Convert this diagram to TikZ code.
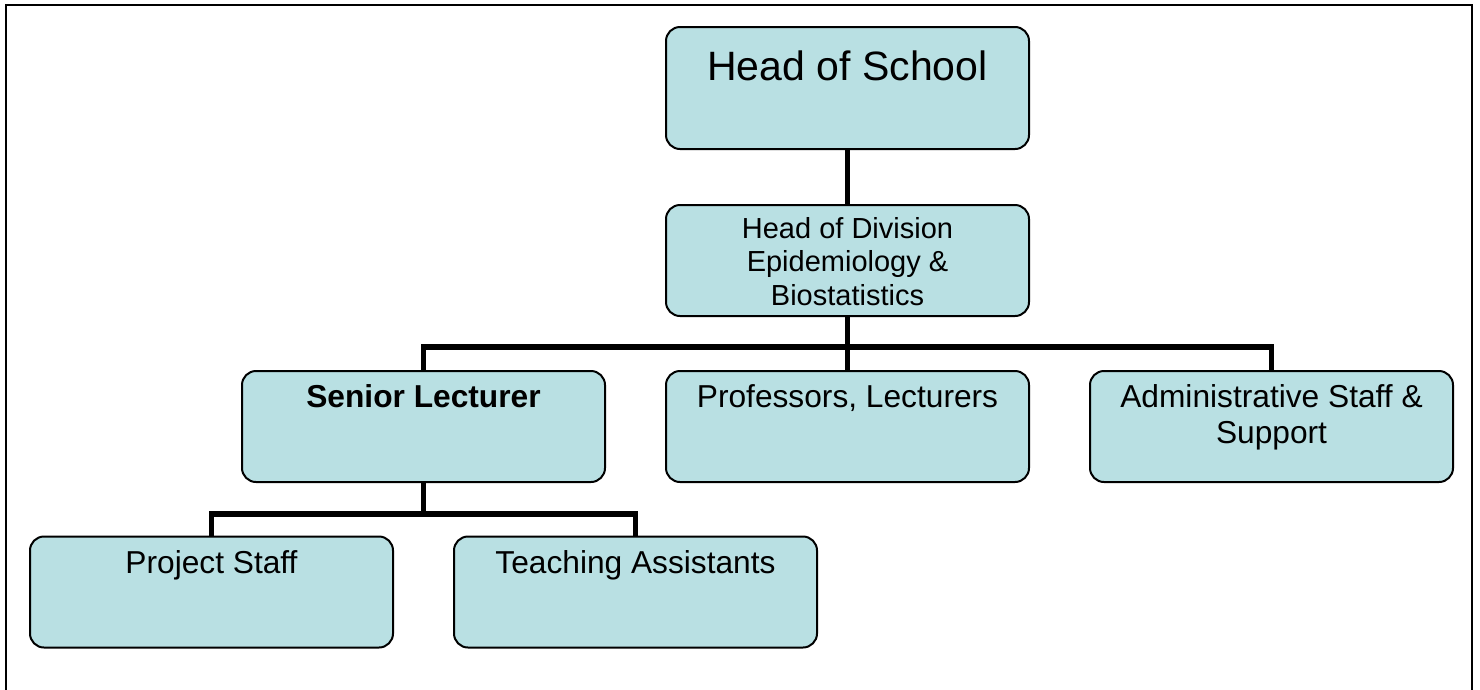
\documentclass[tikz,border=0pt]{standalone}
\usepackage{fontspec}
\setmainfont{Liberation Sans}
\definecolor{boxfill}{RGB}{185,224,227}
\tikzset{
  box/.style={draw=black, line width=2pt, fill=boxfill, rounded corners=14pt,
    minimum width=363pt, minimum height=111pt, inner sep=0pt},
  conn/.style={draw=black, line width=5.5pt, line join=miter},
  big/.style={font=\fontsize{41}{47}\selectfont, inner sep=0pt, anchor=base},
  mid/.style={font=\fontsize{29}{33.5}\selectfont, inner sep=0pt, anchor=base, align=center},
  std/.style={font=\fontsize{31.7}{36}\selectfont, inner sep=0pt, anchor=base, align=center},
}
\begin{document}
\begin{tikzpicture}[x=1pt,y=-1pt]
\useasboundingbox (0,0) rectangle (1480,689);
\fill[white] (0,0) rectangle (1480,689);
% outer frame
\draw[line width=2.4pt] (6,720) -- (6,5) -- (1472,5) -- (1472,720);

% boxes
\node[box, minimum height=122pt] (hos) at (847.5,88) {};
\node[box] (hod) at (847.5,260.5) {};
\node[box] (sl) at (423.5,426.5) {};
\node[box] (prof) at (847.5,426.5) {};
\node[box] (adm) at (1271.5,426.5) {};
\node[box] (ps) at (211.5,592) {};
\node[box] (ta) at (635.5,592) {};

% connectors
\draw[conn] (hos.south) -- (hod.north);
\draw[conn] (hod.south) -- (prof.north);
\draw[conn] (sl.north) -- (sl.north |- 0,347) -- (adm.north |- 0,347) -- (adm.north);
\draw[conn] (sl.south) -- (sl.south |- 0,514);
\draw[conn] (ps.north) -- (ps.north |- 0,514) -- (ta.north |- 0,514) -- (ta.north);

% texts
\node[big] (t1) at (847.5,80) {Head of School};
\node[mid] (t2) at (847.5,305) {Head of Division\\Epidemiology \&\\Biostatistics};
\node[std, font=\fontsize{31.7}{36}\selectfont\bfseries] (t3) at (423.5,407) {Senior Lecturer};
\node[std] (t4) at (847.5,407) {Professors, Lecturers};
\node[std] (t5) at (1271.5,443) {Administrative Staff \&\\Support};
\node[std] (t6) at (211.5,573) {Project Staff};
\node[std] (t7) at (635.5,573) {Teaching Assistants};
\end{tikzpicture}
\end{document}
